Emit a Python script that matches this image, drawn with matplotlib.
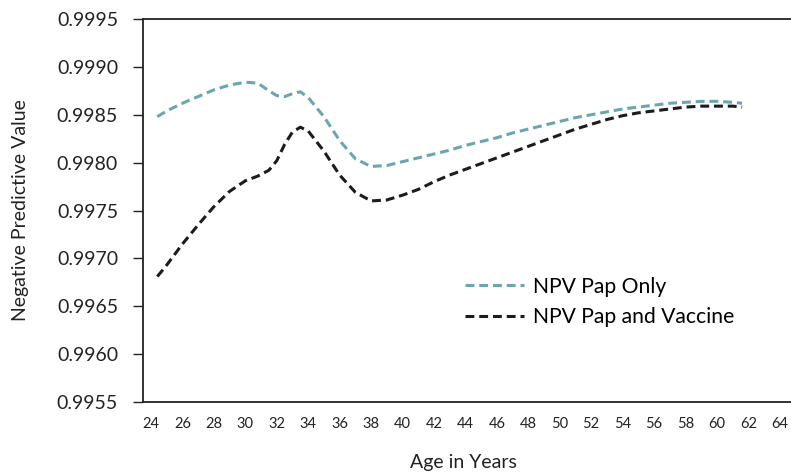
import matplotlib
matplotlib.use("Agg")
import matplotlib.pyplot as plt

# ages (years) at which values were read
ages = [24.4, 25, 26, 27, 28, 29, 30, 30.8, 31.5, 32, 32.5, 33, 33.5, 34, 35, 36, 37, 38, 39,
        40, 41, 42, 43, 44, 45, 46, 47, 48, 49, 50, 51, 52, 53, 54, 55, 56, 57, 58, 59,
        60, 61, 61.6]

# NPV with Pap test only
npv_pap = [0.99848, 0.99854, 0.99862, 0.99869, 0.99876, 0.99881, 0.99884, 0.99883, 0.99875,
           0.99870, 0.99869, 0.99872, 0.99874, 0.99868, 0.99848, 0.99823, 0.99804, 0.99796,
           0.99797, 0.99801, 0.99805, 0.99809, 0.99813, 0.99818, 0.99822, 0.99826, 0.99831,
           0.99835, 0.99839, 0.99843, 0.99847, 0.99850, 0.99853, 0.99856, 0.99858, 0.99860,
           0.99862, 0.99863, 0.99864, 0.99864, 0.99863, 0.99862]

# NPV with Pap test and vaccine
npv_vacc = [0.99681, 0.99693, 0.99715, 0.99735, 0.99754, 0.99770, 0.99781, 0.99786, 0.99792,
            0.99802, 0.99819, 0.99832, 0.99837, 0.99833, 0.99812, 0.99787, 0.99769, 0.99760,
            0.99761, 0.99766, 0.99772, 0.99780, 0.99787, 0.99793, 0.99799, 0.99805, 0.99811,
            0.99817, 0.99823, 0.99829, 0.99835, 0.99840, 0.99845, 0.99849, 0.99852, 0.99854,
            0.99856, 0.99858, 0.99859, 0.99859, 0.99859, 0.99858]

xticks = list(range(24, 65, 2))
yticks = [0.9955, 0.9960, 0.9965, 0.9970, 0.9975, 0.9980, 0.9985, 0.9990, 0.9995]

plt.rcParams['font.family'] = ['Lato', 'DejaVu Sans']

fig = plt.figure(figsize=(7.91, 4.74), dpi=100)
ax = fig.add_axes([143/791, 1 - 402/474, 1 - 143/791, (402 - 19)/474])

# lines
ax.plot(ages, npv_pap, color='#6aa6b0', linewidth=2.2, linestyle=(0, (2.9, 1.6)),
        label='NPV Pap Only')
ax.plot(ages, npv_vacc, color='#1c1c1c', linewidth=2.2, linestyle=(0, (2.9, 1.6)),
        label='NPV Pap and Vaccine')

ax.set_xlim(24 - 8/15.72, 24 + 640/15.72)
ax.set_ylim(0.9955, 0.9995)
ax.set_xticks(xticks)
ax.set_xticklabels([str(t) for t in xticks])
ax.set_yticks(yticks)
ax.set_yticklabels(['%.4f' % t for t in yticks])

ax.tick_params(axis='x', length=0, pad=11, labelsize=10.5, colors='#222222')
ax.tick_params(axis='y', direction='out', length=7, width=1, pad=11, labelsize=14,
               colors='#222222')

for side in ['left', 'bottom', 'top']:
    ax.spines[side].set_linewidth(1.3)
    ax.spines[side].set_color('#222222')
ax.spines['right'].set_visible(False)

ax.set_xlabel('Age in Years', fontsize=14, color='#222222')
ax.xaxis.set_label_coords(0.494, -0.135)
ax.set_ylabel('Negative Predictive Value', fontsize=14, color='#222222')
ax.yaxis.set_label_coords(-0.176, 0.5)

ax.legend(loc='center left', bbox_to_anchor=((463 - 143)/648 - 0.027, 1 - (302 - 19)/383),
          frameon=False, fontsize=15.2, handlelength=2.8, handletextpad=0.45,
          labelspacing=0.5)

fig.savefig('out.png', dpi=100)
